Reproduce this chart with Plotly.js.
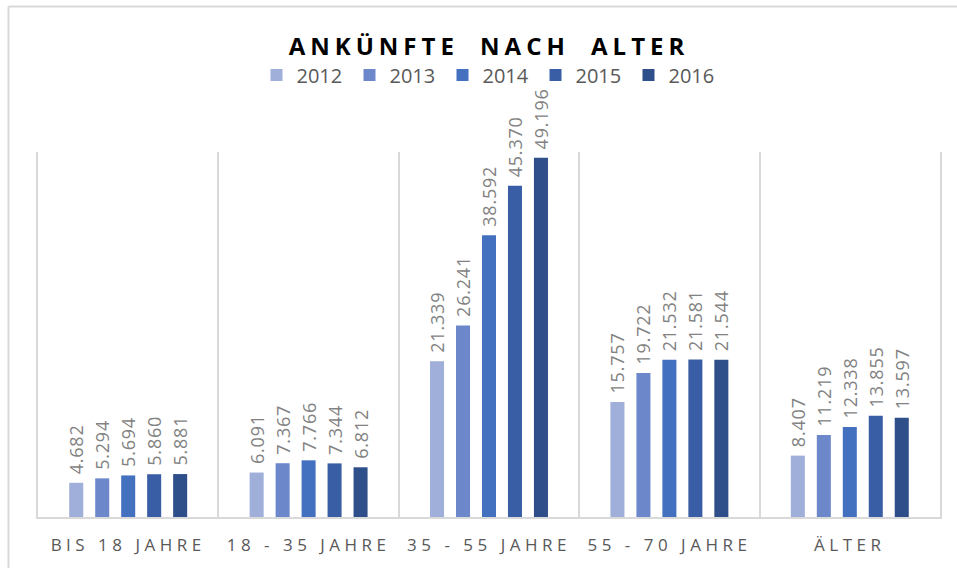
<!DOCTYPE html>
<html>
<head>
<meta charset="utf-8">
<script src="https://cdn.plot.ly/plotly-3.0.1.min.js"></script>
<style>
  html, body { margin: 0; padding: 0; background: #fff; }
  #chart { width: 957px; height: 568px; }
  .gtitle { letter-spacing: 5px; word-spacing: 10px; }
  .xtick text { letter-spacing: 4.5px; }
  text.bartext { letter-spacing: 0.8px; }
</style>
</head>
<body>
<div id="chart"></div>
<script>
const categories = ["BIS 18 JAHRE", "18 - 35 JAHRE", "35 - 55 JAHRE", "55 - 70 JAHRE", "ÄLTER"];
const years = ["2012", "2013", "2014", "2015", "2016"];
const v2012 = [4682, 6091, 21339, 15757, 8407];
const v2013 = [5294, 7367, 26241, 19722, 11219];
const v2014 = [5694, 7766, 38592, 21532, 12338];
const v2015 = [5860, 7344, 45370, 21581, 13855];
const v2016 = [5881, 6812, 49196, 21544, 13597];
const series = [v2012, v2013, v2014, v2015, v2016];
const colors = ["#9fafda", "#6d88ca", "#4371bf", "#3a5ea6", "#2f4f8b"];

const traces = series.map((vals, i) => ({
  type: "bar",
  name: years[i],
  x: categories,
  y: vals,
  marker: { color: colors[i], line: { width: 0 } },
  texttemplate: "\u00a0%{y:,.0f}",
  textposition: "outside",
  textangle: -90,
  constraintext: "none",
  cliponaxis: false,
  textfont: { family: "Open Sans, sans-serif", size: 18, color: "#828282" },
  hoverinfo: "skip"
}));

const W = 957, H = 568, L = 38, R = 17, T = 152, B = 51;
const pw = W - L - R, ph = H - T - B;

const layout = {
  width: W, height: H,
  margin: { l: L, r: R, t: T, b: B, pad: 0 },
  paper_bgcolor: "#ffffff",
  plot_bgcolor: "#ffffff",
  separators: ",.",
  barmode: "group",
  bargap: 0.28,
  bargroupgap: 0.46,
  showlegend: true,
  title: {
    text: "ANKÜNFTE NACH ALTER",
    font: { family: "Open Sans, sans-serif", size: 24, color: "#000000", weight: 700 },
    x: (489) / W, xanchor: "center",
    y: 1 - 47 / H, yanchor: "middle"
  },
  legend: {
    orientation: "h",
    x: 0.5, xanchor: "center",
    y: (H - B - 75) / ph, yanchor: "middle",
    font: { family: "Open Sans, sans-serif", size: 20, color: "#595959" },
    itemsizing: "constant",
    traceorder: "normal",
    entrywidth: 48, entrywidthmode: "pixels",
    bgcolor: "rgba(0,0,0,0)"
  },
  xaxis: {
    type: "category",
    tickson: "boundaries",
    showgrid: true,
    gridcolor: "#d9d9d9",
    gridwidth: 2,
    showline: true,
    linecolor: "#d9d9d9",
    linewidth: 2,
    ticks: "",
    ticklabelstandoff: 12,
    tickfont: { family: "Open Sans, sans-serif", size: 17, color: "#595959" },
    fixedrange: true
  },
  yaxis: {
    range: [0, 50000],
    showgrid: false,
    zeroline: false,
    showticklabels: false,
    ticks: "",
    showline: true,
    mirror: true,
    linecolor: "#d9d9d9",
    linewidth: 2,
    fixedrange: true
  },
  shapes: [
    { type: "line", xref: "paper", yref: "paper",
      x0: (8.5 - L) / pw, x1: (8.5 - L) / pw, y0: (H - B - 6.5) / ph, y1: -B / ph - 0.2,
      line: { color: "#d9d9d9", width: 2 } },
    { type: "line", xref: "paper", yref: "paper",
      x0: (8.5 - L) / pw, x1: 1 + R / pw + 0.1, y0: (H - B - 6.5) / ph, y1: (H - B - 6.5) / ph,
      line: { color: "#d9d9d9", width: 2 } }
  ]
};

Plotly.newPlot("chart", traces, layout, { displayModeBar: false, staticPlot: true });
</script>
</body>
</html>
